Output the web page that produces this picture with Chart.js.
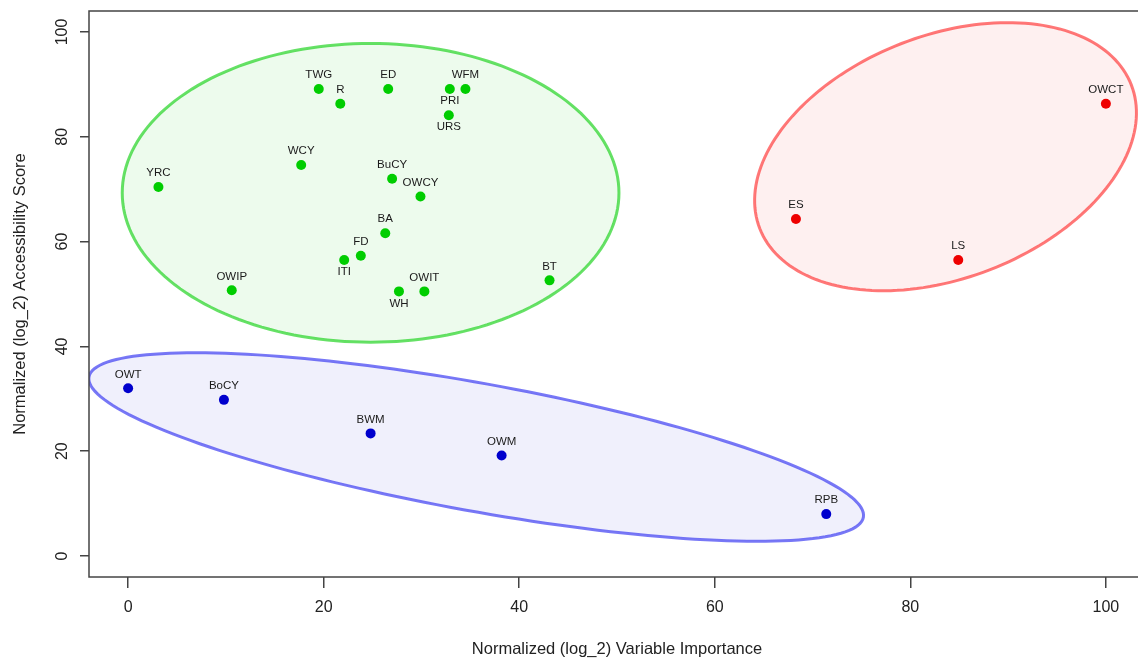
<!DOCTYPE html>
<html>
<head>
<meta charset="utf-8">
<script src="https://cdn.jsdelivr.net/npm/chart.js@4"></script>
<style>
  html, body { margin: 0; padding: 0; background: #fff; overflow: hidden; }
  #wrap { width: 1150px; height: 659px; }
</style>
</head>
<body>
<div id="wrap"><canvas id="chart" width="1150" height="659"></canvas></div>
<script>
// cluster 1 (green)
const greenNames = ['TWG', 'R', 'ED', 'PRI', 'WFM', 'URS', 'WCY', 'YRC', 'BuCY', 'OWCY', 'BA', 'FD', 'ITI', 'OWIP', 'WH', 'OWIT', 'BT'];
const greenX = [19.5, 21.7, 26.6, 32.9, 34.5, 32.8, 17.7, 3.1, 27.0, 29.9, 26.3, 23.8, 22.1, 10.6, 27.7, 30.3, 43.1];
const greenY = [89.1, 86.3, 89.1, 89.1, 89.1, 84.1, 74.6, 70.4, 72.0, 68.6, 61.6, 57.3, 56.5, 50.7, 50.5, 50.5, 52.6];

// cluster 2 (red)
const redNames = ['OWCT', 'ES', 'LS'];
const redX = [100, 68.3, 84.9];
const redY = [86.3, 64.3, 56.5];

// cluster 3 (blue)
const blueNames = ['OWT', 'BoCY', 'BWM', 'OWM', 'RPB'];
const blueX = [0, 9.8, 24.8, 38.2, 71.4];
const blueY = [32.0, 29.8, 23.4, 19.2, 8.0];

// labels written under the point instead of above it
const labelsBelow = ['PRI', 'URS', 'ITI', 'WH'];

const xTicks = [0, 20, 40, 60, 80, 100];
const yTicks = [0, 20, 40, 60, 80, 100];

// cluster ellipses in data units: centre and the two half axes
const greenEllipse = { cx: 24.8, cy: 69.3, u: [25.4, 0], v: [0, 28.5] };
const redEllipse = { cx: 83.6, cy: 76.2, u: [19.0, 13.7], v: [-4.5, 21.6] };
const blueEllipse = { cx: 35.6, cy: 20.8, u: [39.6, -13.4], v: [1.17, 12.0] };

const toPoints = (xs, ys) => xs.map((x, i) => ({ x, y: ys[i] }));

const groups = [
  { names: greenNames, xs: greenX, ys: greenY, color: '#00CD00', ell: greenEllipse, line: 'rgba(0,205,0,0.6)', fill: 'rgba(0,205,0,0.07)' },
  { names: redNames, xs: redX, ys: redY, color: '#EE0000', ell: redEllipse, line: 'rgba(255,30,30,0.6)', fill: 'rgba(238,0,0,0.06)' },
  { names: blueNames, xs: blueX, ys: blueY, color: '#0000CD', ell: blueEllipse, line: 'rgba(30,30,240,0.6)', fill: 'rgba(0,0,205,0.06)' }
];

const ellipsePlugin = {
  id: 'ellipses',
  beforeDatasetsDraw(chart) {
    const { ctx, chartArea, scales } = chart;
    ctx.save();
    ctx.beginPath();
    ctx.rect(chartArea.left, chartArea.top, chartArea.right - chartArea.left, chartArea.bottom - chartArea.top);
    ctx.clip();
    groups.forEach(g => {
      const e = g.ell;
      ctx.beginPath();
      for (let k = 0; k <= 180; k++) {
        const t = k / 180 * Math.PI * 2;
        const dx = e.cx + e.u[0] * Math.cos(t) + e.v[0] * Math.sin(t);
        const dy = e.cy + e.u[1] * Math.cos(t) + e.v[1] * Math.sin(t);
        const px = scales.x.getPixelForValue(dx);
        const py = scales.y.getPixelForValue(dy);
        if (k === 0) ctx.moveTo(px, py); else ctx.lineTo(px, py);
      }
      ctx.closePath();
      ctx.fillStyle = g.fill;
      ctx.fill();
      ctx.lineWidth = 3;
      ctx.strokeStyle = g.line;
      ctx.stroke();
    });
    ctx.restore();
  }
};

const labelPlugin = {
  id: 'pointLabels',
  afterDatasetsDraw(chart) {
    const { ctx } = chart;
    ctx.save();
    ctx.font = '11.5px "Liberation Sans", Arial, sans-serif';
    ctx.fillStyle = '#1a1a1a';
    ctx.textAlign = 'center';
    ctx.textBaseline = 'middle';
    chart.data.datasets.forEach((ds, di) => {
      const meta = chart.getDatasetMeta(di);
      meta.data.forEach((pt, i) => {
        const name = ds.names[i];
        const dy = labelsBelow.includes(name) ? 12 : -14;
        ctx.fillText(name, pt.x, pt.y + dy);
      });
    });
    ctx.restore();
  }
};

const framePlugin = {
  id: 'frame',
  afterDraw(chart) {
    const { ctx, chartArea } = chart;
    ctx.save();
    ctx.strokeStyle = '#444';
    ctx.lineWidth = 1.5;
    ctx.strokeRect(chartArea.left, chartArea.top, chartArea.right - chartArea.left, chartArea.bottom - chartArea.top);
    ctx.restore();
  }
};

const tickFont = { family: '"Liberation Sans", Arial, sans-serif', size: 16 };
const titleFont = { family: '"Liberation Sans", Arial, sans-serif', size: 16.5 };

new Chart(document.getElementById('chart'), {
  type: 'scatter',
  data: {
    datasets: groups.map(g => ({
      data: toPoints(g.xs, g.ys),
      names: g.names,
      backgroundColor: g.color,
      borderColor: g.color,
      pointRadius: 5,
      pointHoverRadius: 5,
      borderWidth: 0
    }))
  },
  options: {
    responsive: false,
    animation: false,
    layout: { padding: { left: 0, top: 11, right: 5, bottom: 0 } },
    plugins: { legend: { display: false }, tooltip: { enabled: false } },
    scales: {
      x: {
        type: 'linear',
        min: -4,
        max: 104,
        afterBuildTicks: s => { s.ticks = xTicks.map(v => ({ value: v })); },
        afterFit: s => { s.height = 82; s.paddingLeft = 0; s.paddingRight = 0; },
        border: { display: false },
        grid: { drawOnChartArea: false, drawTicks: true, tickLength: 11, color: '#444', lineWidth: 1.5 },
        ticks: { color: '#222', font: tickFont, padding: 10, maxRotation: 0 },
        title: { display: true, text: 'Normalized (log_2) Variable Importance', color: '#222', font: titleFont, padding: { top: 0, bottom: 0 } }
      },
      y: {
        type: 'linear',
        min: -4,
        max: 104,
        afterBuildTicks: s => { s.ticks = yTicks.map(v => ({ value: v })); },
        afterFit: s => { s.width = 89; s.paddingTop = 0; s.paddingBottom = 0; },
        border: { display: false },
        grid: { drawOnChartArea: false, drawTicks: true, tickLength: 9, color: '#444', lineWidth: 1.5 },
        ticks: { color: '#222', font: tickFont, padding: 4, minRotation: 90, maxRotation: 90, crossAlign: 'center' },
        title: { display: true, text: 'Normalized (log_2) Accessibility Score', color: '#222', font: titleFont, padding: { top: 11, bottom: 0 } }
      }
    }
  },
  plugins: [ellipsePlugin, labelPlugin, framePlugin]
});
</script>
</body>
</html>
